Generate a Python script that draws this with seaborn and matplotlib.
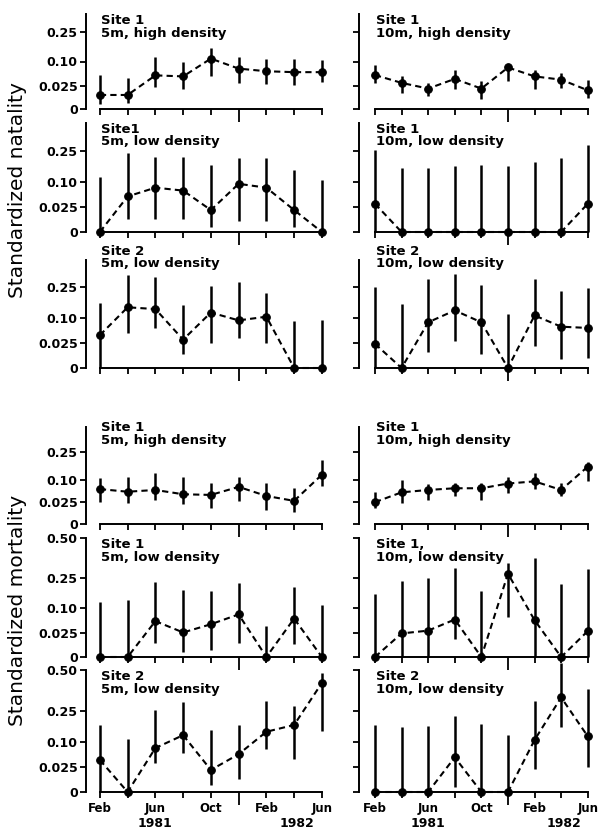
import numpy as np
import matplotlib.pyplot as plt
import seaborn as sns

sns.set_style("ticks")
plt.rcParams['font.family'] = ['DejaVu Sans']
plt.rcParams['lines.dashed_pattern'] = [3.0, 2.0]
plt.rcParams['text.color'] = 'black'
plt.rcParams['xtick.color'] = 'black'
plt.rcParams['ytick.color'] = 'black'
plt.rcParams['axes.labelcolor'] = 'black'

# sampling dates: every two months, Feb 1981 - Jun 1982
months = ['Feb', 'Apr', 'Jun', 'Aug', 'Oct', 'Dec', 'Feb', 'Apr', 'Jun']
month_ticks = [0, 1, 2, 3, 4, 6, 7, 8]
month_labels = ['Feb', '', 'Jun', '', 'Oct', 'Feb', '', 'Jun']
years = ['1981', '1982']
year_pos = [2, 7.1]

ytick_vals = [0, 0.025, 0.10, 0.25]
ytick_labels = ['0', '0.025', '0.10', '0.25']
ytick_vals_big = [0, 0.025, 0.10, 0.25, 0.50]
ytick_labels_big = ['0', '0.025', '0.10', '0.25', '0.50']

# ---- natality ----
nat_s1_5m_high = [0.009, 0.009, 0.051, 0.048, 0.112, 0.073, 0.064, 0.061, 0.061]
nat_s1_5m_high_lo = [0.001, 0.0015, 0.023, 0.019, 0.048, 0.030, 0.029, 0.027, 0.033]
nat_s1_5m_high_hi = [0.051, 0.044, 0.117, 0.098, 0.159, 0.117, 0.112, 0.112, 0.108]

nat_s1_10m_high = [0.052, 0.031, 0.019, 0.041, 0.019, 0.077, 0.048, 0.039, 0.016]
nat_s1_10m_high_lo = [0.031, 0.012, 0.008, 0.018, 0.0045, 0.035, 0.018, 0.021, 0.006]
nat_s1_10m_high_hi = [0.085, 0.048, 0.031, 0.068, 0.035, 0.092, 0.068, 0.057, 0.039]

nat_s1_5m_low = [0, 0.052, 0.080, 0.070, 0.020, 0.094, 0.080, 0.020, 0]
nat_s1_5m_low_lo = [0, 0.007, 0.007, 0.007, 0.001, 0.005, 0.005, 0.001, 0]
nat_s1_5m_low_hi = [0.121, 0.237, 0.218, 0.218, 0.175, 0.210, 0.210, 0.151, 0.107]

nat_s1_10m_low = [0.033, 0, 0, 0, 0, 0, 0, 0, 0.033]
nat_s1_10m_low_lo = [0, 0, 0, 0, 0, 0, 0, 0, 0]
nat_s1_10m_low_hi = [0.254, 0.160, 0.160, 0.171, 0.175, 0.171, 0.192, 0.214, 0.287]

nat_s2_5m_low = [0.044, 0.145, 0.137, 0.033, 0.122, 0.091, 0.105, 0, 0]
nat_s2_5m_low_lo = [0, 0.049, 0.066, 0.008, 0.025, 0.036, 0.026, 0, 0]
nat_s2_5m_low_hi = [0.163, 0.315, 0.304, 0.156, 0.256, 0.275, 0.213, 0.087, 0.093]

nat_s2_10m_low = [0.024, 0, 0.084, 0.131, 0.084, 0, 0.110, 0.069, 0.065]
nat_s2_10m_low_lo = [0, 0, 0.010, 0.030, 0.008, 0, 0.020, 0.003, 0.004]
nat_s2_10m_low_hi = [0.250, 0.161, 0.292, 0.323, 0.260, 0.117, 0.292, 0.226, 0.240]

# ---- mortality ----
mor_s1_5m_high = [0.063, 0.054, 0.060, 0.046, 0.044, 0.071, 0.041, 0.028, 0.123]
mor_s1_5m_high_lo = [0.026, 0.024, 0.029, 0.022, 0.013, 0.028, 0.010, 0.008, 0.075]
mor_s1_5m_high_hi = [0.108, 0.114, 0.130, 0.114, 0.088, 0.114, 0.088, 0.068, 0.203]

mor_s1_10m_high = [0.025, 0.052, 0.060, 0.066, 0.066, 0.084, 0.093, 0.060, 0.164]
mor_s1_10m_high_lo = [0.014, 0.024, 0.029, 0.041, 0.031, 0.049, 0.064, 0.041, 0.093]
mor_s1_10m_high_hi = [0.054, 0.097, 0.084, 0.086, 0.086, 0.113, 0.129, 0.086, 0.192]

mor_s1_5m_low = [0, 0, 0.055, 0.026, 0.046, 0.077, 0, 0.063, 0]
mor_s1_5m_low_lo = [0, 0, 0.008, 0.001, 0.002, 0.008, 0, 0.007, 0]
mor_s1_5m_low_hi = [0.127, 0.135, 0.224, 0.183, 0.178, 0.218, 0.041, 0.200, 0.113]

mor_s1_10m_low = [0, 0.024, 0.030, 0.060, 0, 0.273, 0.058, 0, 0.029]
mor_s1_10m_low_lo = [0, 0, 0, 0.014, 0, 0.067, 0, 0, 0]
mor_s1_10m_low_hi = [0.165, 0.231, 0.246, 0.309, 0.178, 0.340, 0.370, 0.213, 0.304]

mor_s2_5m_low = [0.042, 0, 0.078, 0.128, 0.020, 0.058, 0.143, 0.175, 0.417]
mor_s2_5m_low_lo = [0, 0, 0.034, 0.062, 0.002, 0.007, 0.076, 0.045, 0.146]
mor_s2_5m_low_hi = [0.175, 0.110, 0.253, 0.298, 0.149, 0.175, 0.307, 0.278, 0.482]

mor_s2_10m_low = [0, 0, 0, 0.049, 0, 0, 0.108, 0.327, 0.123]
mor_s2_10m_low_lo = [0, 0, 0, 0.001, 0, 0, 0.022, 0.164, 0.026]
mor_s2_10m_low_hi = [0.177, 0.164, 0.170, 0.223, 0.182, 0.128, 0.305, 0.543, 0.379]

titles = [
    ['Site 1\n5m, high density', 'Site 1\n10m, high density'],
    ['Site1\n5m, low density', 'Site 1\n10m, low density'],
    ['Site 2\n5m, low density', 'Site 2\n10m, low density'],
    ['Site 1\n5m, high density', 'Site 1\n10m, high density'],
    ['Site 1\n5m, low density', 'Site 1,\n10m, low density'],
    ['Site 2\n5m, low density', 'Site 2\n10m, low density'],
]

series = [
    [(nat_s1_5m_high, nat_s1_5m_high_lo, nat_s1_5m_high_hi),
     (nat_s1_10m_high, nat_s1_10m_high_lo, nat_s1_10m_high_hi)],
    [(nat_s1_5m_low, nat_s1_5m_low_lo, nat_s1_5m_low_hi),
     (nat_s1_10m_low, nat_s1_10m_low_lo, nat_s1_10m_low_hi)],
    [(nat_s2_5m_low, nat_s2_5m_low_lo, nat_s2_5m_low_hi),
     (nat_s2_10m_low, nat_s2_10m_low_lo, nat_s2_10m_low_hi)],
    [(mor_s1_5m_high, mor_s1_5m_high_lo, mor_s1_5m_high_hi),
     (mor_s1_10m_high, mor_s1_10m_high_lo, mor_s1_10m_high_hi)],
    [(mor_s1_5m_low, mor_s1_5m_low_lo, mor_s1_5m_low_hi),
     (mor_s1_10m_low, mor_s1_10m_low_lo, mor_s1_10m_low_hi)],
    [(mor_s2_5m_low, mor_s2_5m_low_lo, mor_s2_5m_low_hi),
     (mor_s2_10m_low, mor_s2_10m_low_lo, mor_s2_10m_low_hi)],
]

# arcsine square-root axis
def fwd(v):
    return np.arcsin(np.sqrt(np.clip(v, 0, 1)))

def inv(t):
    return np.sin(np.clip(t, 0, np.pi / 2)) ** 2

# layout in pixels (top, bottom) of each row, and axis top value
W, H = 599, 832
row_px = [(14, 109), (123, 232), (260, 368), (427, 524), (538, 657), (670, 792)]
row_ymax = [0.36, 0.42, 0.41, 0.42, 0.50, 0.50]
title_raise = [0, 0, 11, 4, 0, 0]
col_left = [86, 359]
col_xlim = [(-0.5, 8.2), (-0.6, 8.2)]
col_step = [27.75, 26.6]

fig = plt.figure(figsize=(W / 100, H / 100), dpi=100)
x_idx = list(range(len(months)))

for r in range(6):
    top, bot = row_px[r]
    for c in range(2):
        x0, x1 = col_xlim[c]
        width = (x1 - x0) * col_step[c]
        ax = fig.add_axes([col_left[c] / W, 1 - bot / H, width / W, (bot - top) / H])
        ax.set_yscale('function', functions=(fwd, inv))
        ax.set_xlim(x0, x1)
        ax.set_ylim(0, row_ymax[r])

        mean, lo, hi = series[r][c]
        ax.vlines(x_idx, lo, hi, color='black', lw=1.8, clip_on=False, zorder=2)
        sns.lineplot(x=x_idx, y=mean, ax=ax, color='black', linestyle='--',
                     lw=1.5, marker='o', markersize=5.5, markeredgecolor='black',
                     clip_on=False, zorder=3)

        if r >= 4:
            yv, yl = ytick_vals_big, ytick_labels_big
        else:
            yv, yl = ytick_vals, ytick_labels
        ax.set_yticks(yv, yl, fontweight='bold', fontsize=9)
        ax.yaxis.set_minor_locator(plt.NullLocator())
        if c == 1:
            ax.tick_params(axis='y', labelleft=False)

        ax.set_xticks(month_ticks)
        ax.set_xticks([5], minor=True)
        if r == 5:
            ax.set_xticklabels(month_labels, fontweight='bold', fontsize=8.5)
            for yr, xp in zip(years, year_pos):
                ax.annotate(yr, xy=(xp, 0), xycoords=('data', 'axes fraction'),
                            xytext=(0, -23), textcoords='offset points',
                            ha='center', va='center', fontweight='bold', fontsize=9)
        else:
            ax.set_xticklabels([])

        ax.tick_params(axis='both', which='major', length=4, width=1.3,
                       direction='out', pad=2, color='black')
        ax.tick_params(axis='x', which='minor', length=9, width=1.3, color='black')
        ax.tick_params(axis='x', which='major', pad=3)

        sns.despine(ax=ax)
        ax.spines['left'].set_bounds(0, row_ymax[r])
        ax.spines['bottom'].set_bounds(0, 8)
        for s in ('left', 'bottom'):
            ax.spines[s].set_linewidth(1.4)
            ax.spines[s].set_color('black')
        ax.set_xlabel('')
        ax.set_ylabel('')

        ax.annotate(titles[r][c], xy=(0, 1), xycoords=('data', 'axes fraction'),
                    xytext=(1, title_raise[r]), textcoords='offset points',
                    ha='left', va='top', fontweight='bold', fontsize=9.5,
                    linespacing=0.95)

fig.text(18 / W, 1 - 190 / H, 'Standardized natality', rotation=90,
         ha='center', va='center', fontsize=14.5)
fig.text(18 / W, 1 - 610 / H, 'Standardized mortality', rotation=90,
         ha='center', va='center', fontsize=14.5)

fig.savefig('out.png', dpi=100)
